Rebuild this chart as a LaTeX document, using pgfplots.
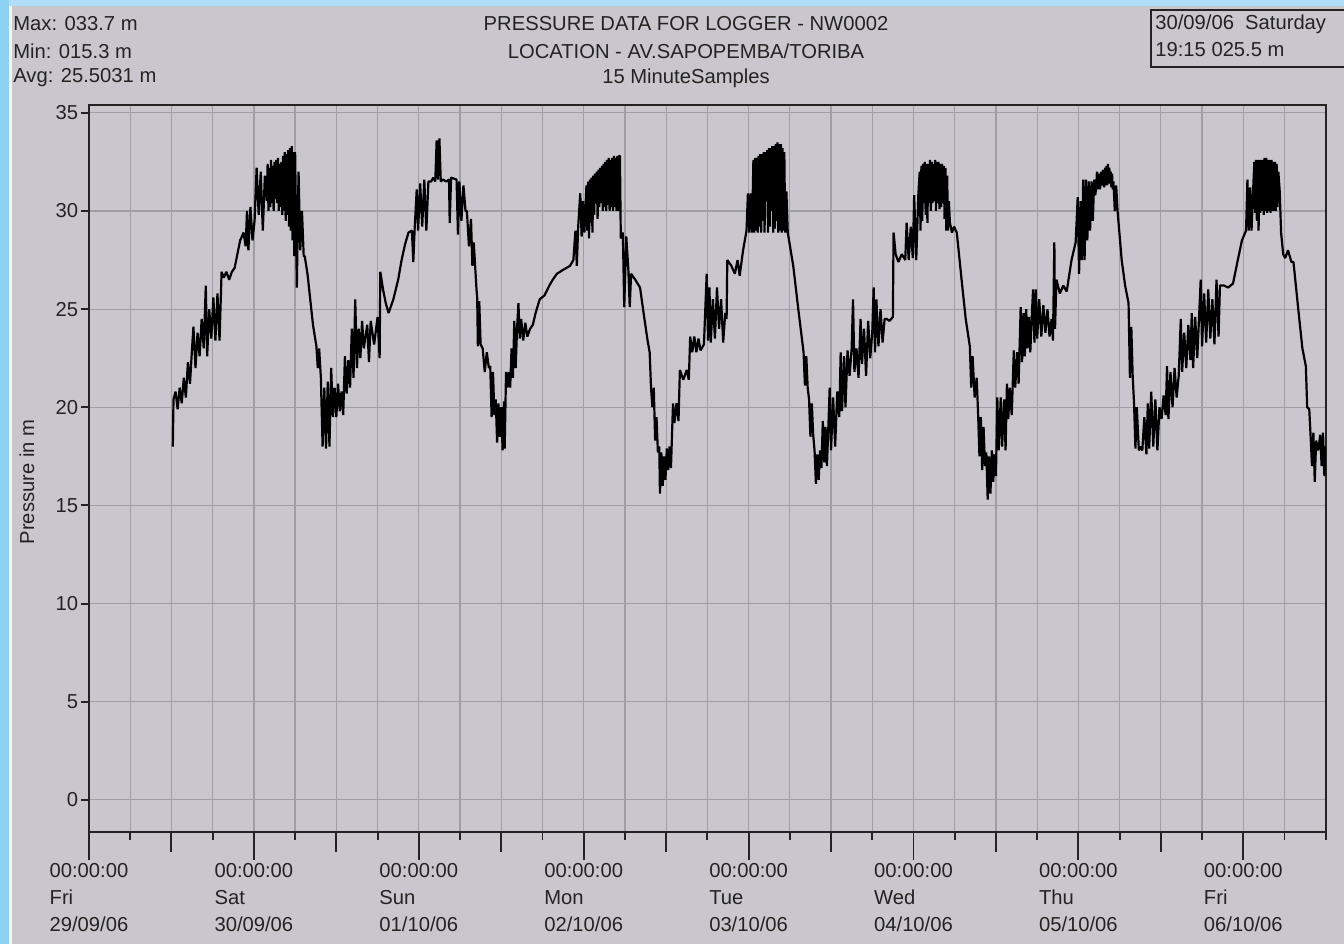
\documentclass[border=0pt]{standalone}
\usepackage{pgfplots}
\usepackage{pgfplotstable}
\pgfplotsset{compat=1.18}
\usepackage{fontspec}
\setmainfont{Liberation Sans}
\definecolor{bggray}{RGB}{201,199,205}
\definecolor{bluestrip}{RGB}{140,208,244}
\definecolor{bluetop}{RGB}{175,222,246}
\definecolor{gridgray}{RGB}{160,158,165}
\definecolor{ink}{RGB}{35,35,35}
\pgfplotstableread{
h p
12.2 18.0
12.3 20.4
12.6 20.8
12.9 19.9
13.2 21.0
13.5 20.2
13.8 21.5
14.1 20.5
14.4 22.3
14.7 21.2
15.0 23.0
15.2 24.1
15.5 22.0
15.8 23.8
16.1 22.6
16.4 24.5
16.7 23.0
17.0 26.2
17.2 22.6
17.5 25.0
17.8 23.5
18.1 25.6
18.4 23.4
18.7 25.8
19.0 23.4
19.3 26.9
19.6 26.6
20.0 26.9
20.4 26.5
20.8 26.9
21.2 27.1
21.6 27.8
22.0 28.5
22.5 28.9
22.8 28.2
23.0 30.0
23.2 28.0
23.5 30.2
23.8 28.5
24.1 29.5
24.4 32.2
24.7 29.8
25.0 32.0
25.3 29.0
25.6 31.8
25.9 30.5
26.000 32.4
26.125 30.0
26.250 32.2
26.375 30.2
26.500 32.6
26.625 30.4
26.750 32.3
26.875 30.0
27.000 32.5
27.125 30.6
27.250 32.6
27.375 30.4
27.500 32.7
27.625 30.0
27.750 32.4
27.875 30.2
28.000 32.5
28.125 29.8
28.250 32.8
28.375 30.0
28.500 33.0
28.625 29.5
28.750 32.9
28.875 29.8
29.000 33.1
29.125 29.2
29.250 33.2
29.375 29.0
29.500 33.3
29.625 28.5
29.750 33.0
29.875 27.7
30.000 33.0
30.25 26.1
30.5 32.0
30.75 28.0
31.0 30.0
31.25 27.7
31.4 27.7
31.8 26.8
32.2 25.5
32.6 24.2
33.1 23.1
33.3 22.0
33.5 23.0
33.75 21.5
34.0 18.0
34.25 21.0
34.5 17.9
34.75 21.3
35.0 18.0
35.25 22.0
35.5 19.5
35.75 21.0
36.0 19.5
36.25 21.2
36.5 19.8
36.75 20.8
37.0 19.6
37.25 22.6
37.5 20.7
37.75 22.4
38.0 21.0
38.25 24.0
38.5 21.5
38.75 25.5
39.0 22.0
39.25 24.0
39.5 22.5
39.75 24.4
40.0 23.0
40.5 24.2
40.75 22.3
41.0 24.4
41.5 23.2
42.0 24.6
42.3 22.5
42.4 26.9
42.8 26.0
43.2 25.3
43.6 24.8
44.0 25.2
44.3 25.5
45.0 26.5
45.5 27.5
46.0 28.3
46.5 28.9
47.0 29.0
47.2 27.4
47.4 29.1
47.7 31.1
47.9 29.0
48.2 31.4
48.5 29.2
48.8 31.6
49.1 29.0
49.4 31.5
49.8 31.5
50.1 31.7
50.4 31.5
50.6 33.6
50.8 31.6
51.0 33.7
51.2 31.5
51.5 31.6
52.0 31.5
52.4 31.6
52.5 29.4
52.7 31.7
53.5 31.6
53.7 28.8
53.9 31.5
54.2 29.5
54.5 31.3
54.8 30.0
55.0 30.0
55.3 28.2
55.6 29.6
55.8 27.2
56.0 28.4
56.2 27.2
56.4 26.0
56.5 25.6
56.6 23.1
56.8 25.4
57.0 23.2
57.3 23.0
57.6 21.8
57.9 22.8
58.2 22.0
58.4 22.1
58.6 19.5
58.8 21.8
59.0 19.6
59.2 20.4
59.4 18.2
59.6 20.2
59.8 18.5
60.0 20.0
60.2 17.8
60.4 20.3
60.5 17.9
60.7 21.8
60.9 21.0
61.1 21.8
61.3 21.0
61.5 23.0
61.7 21.5
61.9 24.4
62.1 22.0
62.3 24.0
62.5 25.3
62.7 23.5
62.9 24.5
63.2 23.4
63.5 24.3
63.8 23.6
64.2 24.0
64.6 24.2
65.0 24.8
65.6 25.5
66.3 25.7
67.0 26.2
67.5 26.5
68.1 26.8
69.0 27.0
70.0 27.2
70.5 27.5
70.8 29.0
71.0 27.2
71.2 29.2
71.5 30.9
71.7 28.7
71.9 30.5
72.1 28.9
72.400 31.3
72.525 29.0
72.650 31.5
72.775 28.6
72.900 31.6
73.025 29.4
73.150 31.7
73.275 28.9
73.400 31.8
73.525 29.8
73.650 31.9
73.775 30.4
73.900 32.0
74.025 29.6
74.150 32.1
74.275 30.2
74.400 32.2
74.525 30.4
74.650 32.3
74.775 30.0
74.900 32.4
75.025 30.2
75.150 32.5
75.275 30.0
75.400 32.6
75.525 30.3
75.650 32.7
75.775 30.0
75.900 32.6
76.025 30.2
76.150 32.7
76.275 30.0
76.400 32.8
76.525 30.2
76.650 32.7
76.775 30.0
76.900 32.8
77.025 30.0
77.150 32.8
77.275 32.8
77.4 28.6
77.7 28.9
77.9 25.1
78.2 28.7
78.5 27.0
78.7 25.1
78.9 26.8
79.5 26.5
80.2 26.1
80.8 24.6
81.3 23.4
81.6 22.8
81.8 21.0
82.0 20.0
82.2 21.0
82.4 18.3
82.6 19.5
82.8 17.7
83.0 18.0
83.1 15.6
83.3 17.7
83.5 16.0
83.7 17.5
83.9 16.3
84.1 17.9
84.3 16.8
84.5 18.0
84.7 16.9
85.0 20.2
85.2 19.2
85.5 20.2
85.8 19.3
86.0 21.9
86.5 21.4
87.0 21.9
87.3 21.4
87.5 23.6
87.8 22.8
88.1 23.6
88.4 22.8
88.7 23.5
89.0 22.9
89.5 23.2
89.9 26.8
90.1 23.4
90.3 26.1
90.5 23.3
90.8 25.5
91.1 23.5
91.4 26.1
91.7 24.0
92.0 25.5
92.3 23.3
92.6 24.8
92.8 24.5
92.9 27.5
93.5 27.2
94.0 26.8
94.4 27.5
94.7 26.7
95.2 28.0
95.7 29.0
95.9 30.9
96.1 28.9
96.3 30.9
96.5 28.9
96.700 32.6
96.825 28.9
96.950 32.7
97.075 29.0
97.200 32.7
97.325 28.9
97.450 32.8
97.575 29.2
97.700 32.9
97.825 28.9
97.950 32.9
98.075 29.5
98.200 33.0
98.325 28.9
98.450 33.0
98.575 30.5
98.700 33.1
98.825 28.9
98.950 33.2
99.075 29.2
99.200 33.2
99.325 30.0
99.450 33.3
99.575 28.9
99.700 33.3
99.825 29.1
99.950 33.4
100.075 29.5
100.200 33.5
100.325 28.9
100.450 33.4
100.575 29.0
100.700 33.4
100.825 28.9
100.950 33.2
101.075 29.0
101.200 33.0
101.325 28.9
101.500 31.0
101.700 28.9
102.5 27.2
103.2 25.1
104.0 22.8
104.2 21.1
104.4 22.6
104.6 21.0
104.8 20.4
105.0 18.5
105.2 20.2
105.4 18.6
105.6 17.8
105.8 16.1
106.0 17.6
106.2 16.3
106.4 17.8
106.6 16.9
106.8 19.3
107.0 17.2
107.2 19.0
107.4 17.0
107.6 18.9
107.8 21.0
108.0 17.8
108.3 20.5
108.6 18.0
108.9 20.8
109.2 19.5
109.4 22.8
109.6 19.8
109.9 22.6
110.1 20.0
110.4 22.9
110.7 21.6
111.0 23.0
111.2 25.5
111.4 21.8
111.7 23.0
112.0 21.5
112.3 24.5
112.5 22.2
112.8 24.0
113.1 21.6
113.4 24.4
113.7 22.5
114.0 23.8
114.2 26.1
114.4 22.8
114.6 25.5
114.9 23.1
115.2 25.0
115.5 23.3
115.8 24.5
116.1 24.5
116.5 24.4
117.0 24.6
117.1 28.9
117.4 27.8
117.8 27.4
118.3 27.8
118.8 27.5
119.0 29.4
119.3 27.5
119.6 29.2
119.9 27.6
120.1 30.8
120.4 27.5
120.7 30.8
120.900 32.0
121.025 29.0
121.150 32.3
121.275 29.5
121.400 32.4
121.525 30.4
121.650 32.5
121.775 29.8
121.900 32.4
122.025 29.4
122.150 32.4
122.275 30.4
122.400 32.6
122.525 30.0
122.650 32.5
122.775 30.4
122.900 32.4
123.025 30.5
123.150 32.6
123.275 30.0
123.400 32.5
123.525 30.4
123.650 32.5
123.775 30.1
123.900 32.4
124.025 30.2
124.150 32.4
124.275 30.4
124.400 32.3
124.525 29.6
124.650 32.2
124.775 29.0
124.900 31.8
125.025 29.0
125.150 30.5
125.300 29.4
125.6 28.9
125.9 29.2
126.3 28.9
127.0 26.5
127.6 24.5
128.2 23.1
128.4 21.0
128.6 22.6
128.9 20.5
129.2 21.5
129.4 19.7
129.6 17.5
129.8 19.5
130.0 16.8
130.2 19.0
130.4 17.0
130.6 17.7
130.8 15.3
131.0 17.5
131.2 15.6
131.4 17.8
131.6 16.2
131.8 17.6
132.0 16.5
132.2 20.5
132.4 17.8
132.7 20.5
132.9 18.0
133.2 20.4
133.4 17.8
133.6 21.2
133.8 19.4
134.0 21.0
134.3 19.6
134.6 22.9
134.8 21.0
135.1 22.8
135.3 21.2
135.6 25.1
135.8 22.3
136.0 24.8
136.2 22.6
136.4 25.0
136.6 23.0
136.8 24.6
137.0 22.8
137.2 24.5
137.4 26.0
137.6 23.3
137.8 26.0
138.0 23.5
138.3 25.5
138.6 23.6
138.9 25.2
139.2 23.8
139.5 25.0
139.8 23.6
140.1 24.5
140.3 23.4
140.5 28.4
140.6 24.0
140.8 26.5
141.3 25.8
141.8 26.2
142.3 25.9
143.0 27.5
143.6 28.4
143.9 30.7
144.1 26.8
144.3 30.5
144.5 27.5
144.7 31.6
144.9 27.5
145.1 31.6
145.3 28.5
145.5 31.5
145.7 29.0
145.9 31.5
146.1 29.5
146.3 31.6
146.45 30.8
146.6 31.2
146.7 32.0
146.8 31.8
146.9 31.1
147.0 31.9
147.15 31.1
147.3 32.0
147.45 31.3
147.6 32.1
147.75 31.2
147.9 32.2
148.0 31.3
148.1 32.3
148.2 31.3
148.3 32.4
148.4 31.4
148.5 32.2
148.6 31.4
148.7 32.0
148.8 31.2
148.9 31.9
149.0 31.1
149.1 31.5
149.3 30.0
149.5 31.3
149.7 30.0
150.3 27.5
150.8 26.2
151.3 25.3
151.5 21.5
151.7 24.1
151.9 21.6
152.1 20.2
152.3 17.9
152.5 20.0
152.8 17.8
153.0 18.0
153.3 17.8
153.6 19.5
153.9 17.6
154.1 20.2
154.3 17.9
154.6 20.8
154.9 18.0
155.2 20.4
155.5 17.8
155.8 20.0
156.1 19.4
156.4 20.6
156.7 19.6
156.9 22.1
157.1 19.4
157.4 21.8
157.7 20.0
158.0 22.0
158.3 20.5
158.6 21.6
158.9 24.5
159.1 21.8
159.4 23.8
159.7 22.0
160.0 24.2
160.3 22.4
160.5 24.8
160.7 22.0
161.0 24.6
161.3 22.5
161.6 24.9
161.8 26.5
162.0 23.1
162.3 25.8
162.6 23.3
162.9 26.0
163.2 23.5
163.5 25.5
163.8 23.2
164.1 26.5
164.4 23.6
164.6 26.2
165.2 26.2
165.8 26.1
166.5 26.3
167.2 27.5
167.8 28.5
168.4 29.0
168.6 31.6
168.8 29.0
169.0 31.2
169.2 29.0
169.4 30.8
169.600 32.5
169.725 29.9
169.850 32.6
169.975 29.5
170.100 32.6
170.225 29.0
170.350 32.6
170.475 29.9
170.600 32.6
170.725 30.0
170.850 32.6
170.975 29.8
171.100 32.7
171.225 30.0
171.350 32.7
171.475 29.9
171.600 32.6
171.725 30.0
171.850 32.6
171.975 29.9
172.100 32.6
172.225 30.0
172.350 32.5
172.475 30.0
172.600 32.5
172.725 30.0
172.850 32.4
172.975 30.2
173.100 32.0
173.300 31.0
173.5 28.9
173.8 27.8
174.1 27.6
174.5 28.0
175.0 27.4
175.3 27.4
176.0 25.0
176.6 23.0
177.1 22.1
177.3 20.0
177.6 19.9
177.8 18.5
178.0 17.0
178.2 18.7
178.4 16.2
178.6 18.3
178.9 17.8
179.2 18.6
179.4 17.0
179.6 18.7
179.8 16.5
180.0 18.0
}\pressure
\begin{document}
\begin{tikzpicture}
\begin{scope}[x=0.02cm,y=-0.02cm,shift={(0,18.88cm)}]
\path[use as bounding box] (0,0) rectangle (1344,944);
\fill[bluestrip] (0,0) rectangle (1344,944);
\fill[bluetop] (9,0) rectangle (1344,6);
\fill[white!85!bluestrip] (9,6) rectangle (12,944);
\fill[bggray] (12,6) rectangle (1344,944);
\begin{scope}[font=\fontsize{11.5}{14}\selectfont, text=ink]
\node[anchor=west, inner sep=0pt] at (13,24) {Max: 033.7 m};
\node[anchor=west, inner sep=0pt] at (13,51) {Min: 015.3 m};
\node[anchor=west, inner sep=0pt] at (13,78) {Avg: 25.5031 m};
\node[inner sep=0pt] at (686,24) {PRESSURE DATA FOR LOGGER - NW0002};
\node[inner sep=0pt] at (686,51) {LOCATION - AV.SAPOPEMBA/TORIBA};
\node[inner sep=0pt] at (686,78) {15 MinuteSamples};
\draw[ink, line width=0.9pt] (1151,10) rectangle (1360,67);
\node[anchor=west, inner sep=0pt] at (1155,24) {30/09/06\ \ Saturday};
\node[anchor=west, inner sep=0pt] at (1155,50) {19:15 025.5 m};
\node[rotate=90, inner sep=0pt] at (27,482) {Pressure in m};
\end{scope}
\end{scope}
\begin{axis}[
  at={(1.78cm,2.24cm)}, anchor=south west,
  scale only axis, width=24.74cm, height=14.54cm,
  xmin=0, xmax=180, ymin=-1.63, ymax=35.4,
  axis background/.style={fill=bggray},
  xtick={0,6,...,180}, xticklabels={},
  minor xtick={12,36,...,156},
  ytick={0,5,...,35},
  tick pos=left, tick align=outside,
  major tick length=0.16cm, minor tick length=0.4cm,
  xmajorgrids, ymajorgrids, xminorgrids=false,
  grid style={gridgray, line width=0.7pt},
  axis line style={ink, line width=1.1pt},
  every tick/.style={ink, line width=1.1pt},
  extra x ticks={0,24,...,168},
  extra x tick labels={{00:00:00\\Fri\\29/09/06},{00:00:00\\Sat\\30/09/06},{00:00:00\\Sun\\01/10/06},{00:00:00\\Mon\\02/10/06},{00:00:00\\Tue\\03/10/06},{00:00:00\\Wed\\04/10/06},{00:00:00\\Thu\\05/10/06},{00:00:00\\Fri\\06/10/06}},
  extra x tick style={grid=none, major tick length=0.56cm,
    xticklabel style={align=left, font=\fontsize{11.5}{15.2}\selectfont, text=ink, inner sep=2pt}},
  yticklabel style={font=\fontsize{11.5}{14}\selectfont, text=ink, inner sep=1.5pt},
  /pgf/number format/assume math mode=true,
]
\addplot[black, line width=1.25pt, line join=bevel, mark=none] table[x=h, y=p] {\pressure};
\end{axis}
\end{tikzpicture}
\end{document}
